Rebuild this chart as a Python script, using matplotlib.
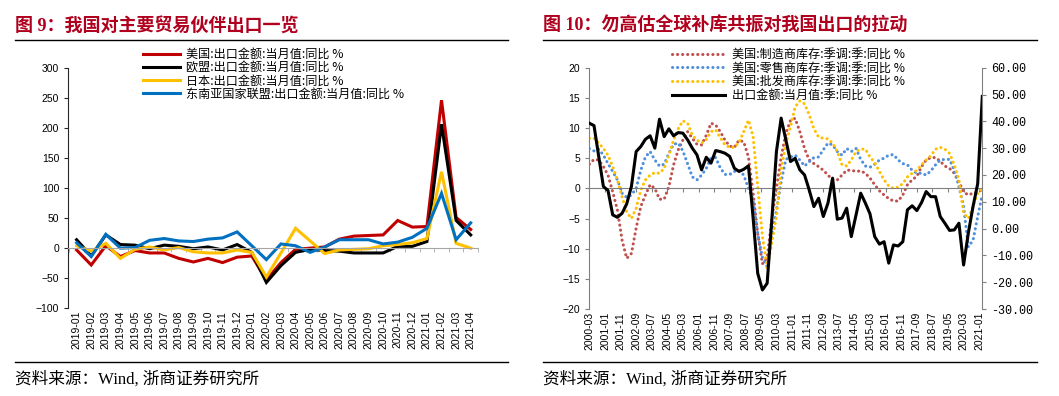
import numpy as np
import pandas as pd
import matplotlib
matplotlib.use("Agg")
import matplotlib.pyplot as plt
from matplotlib.lines import Line2D
from matplotlib.ticker import FormatStrFormatter, MultipleLocator
import matplotlib.dates as mdates

plt.rcParams["font.family"] = ["Liberation Sans", "Noto Sans CJK SC"]
plt.rcParams["axes.unicode_minus"] = True

# -------------------------
# Data: figure 9 (monthly, y/y %)
# -------------------------

months = ["2019-01", "2019-02", "2019-03", "2019-04", "2019-05", "2019-06",
          "2019-07", "2019-08", "2019-09", "2019-10", "2019-11", "2019-12",
          "2020-01", "2020-02", "2020-03", "2020-04", "2020-05", "2020-06",
          "2020-07", "2020-08", "2020-09", "2020-10", "2020-11", "2020-12",
          "2021-01", "2021-02", "2021-03", "2021-04"]

us = [-3, -28, 4, -14, -4, -8, -8, -17, -23, -17, -24, -15,
      -13, -53, -24, -2, 0, 2, 15, 20, 21, 22, 46, 35,
      36, 246, 51, 31]
eu = [14, -13, 22, 6, 5, -1, 5, 3, -1, 2, -3, 6,
      -7, -57, -29, -7, -2, -4, -5, -8, -8, -8, 3, 3,
      11, 206, 46, 22]
japan = [4, -5, 8, -17, -2, 2, -3, 1, -6, -8, -8, -3,
         -7, -48, -8, 33, 12, -9, -3, -2, -1, 4, 6, 9,
         16, 127, 8, 0]
asean = [9, -14, 23, 0, 1, 13, 16, 12, 11, 15, 17, 27,
         4, -19, 7, 4, -7, 2, 14, 14, 14, 7, 10, 18,
         33, 91, 14, 42]

left_labels = ["美国:出口金额:当月值:同比 %", "欧盟:出口金额:当月值:同比 %",
               "日本:出口金额:当月值:同比 %", "东南亚国家联盟:出口金额:当月值:同比 %"]

# -------------------------
# Data: figure 10 (quarterly, y/y %)
# -------------------------

quarters = pd.date_range("2000-03-01", "2021-03-01", freq="3MS")

us_mfg = [4.0, 4.8, 4.7, 3.6, 2.2, -0.6, -3.6, -8.6, -11.6, -10.8,
          -6.6, -3.0, -1.1, 0.6, 0.0, -1.8, -1.8, 0.3, 3.9, 6.4,
          8.0, 9.4, 8.3, 7.3, 7.2, 8.8, 10.8, 10.5, 9.4, 8.0,
          7.0, 6.8, 8.0, 7.7, 5.2, -0.8, -7.5, -12.5, -11.5, -5.0,
          0.0, 5.2, 9.1, 11.3, 11.6, 9.4, 6.6, 4.7, 4.1, 3.6,
          3.0, 2.2, 1.4, 1.4, 2.2, 3.0, 3.0, 2.8, 2.9, 2.5,
          1.7, 0.6, -0.4, -1.1, -1.7, -2.1, -2.1, -1.1, 0.6, 1.4,
          2.0, 3.6, 4.7, 5.1, 5.1, 4.5, 3.7, 3.3, 2.5, 1.1,
          -0.6, -1.1, -0.8, -0.6, -0.2]
us_retail = [6.6, 6.2, 6.5, 5.5, 4.1, 2.8, 1.4, -0.8, -1.5, -1.1,
             0.0, 3.0, 5.2, 6.1, 4.7, 3.7, 4.0, 5.8, 7.3, 7.5,
             6.2, 4.1, 1.9, 1.4, 2.2, 3.3, 5.0, 5.1, 3.4, 2.3,
             2.3, 2.8, 3.0, 2.2, 0.0, -1.9, -7.5, -11.5, -13.0, -8.0,
             -3.6, 1.1, 4.8, 5.2, 5.5, 4.7, 3.7, 4.4, 5.1, 5.2,
             6.4, 7.5, 7.2, 6.1, 5.5, 6.6, 6.1, 6.6, 4.8, 3.7,
             3.5, 4.0, 4.7, 5.0, 5.5, 5.6, 4.7, 4.1, 3.9, 3.0,
             2.5, 2.5, 2.2, 2.9, 3.9, 4.7, 4.8, 4.8, 3.0, 0.3,
             -3.0, -9.7, -8.6, -4.7, -1.0]
us_wholesale = [8.3, 8.3, 7.5, 6.6, 5.5, 3.6, 1.4, -1.4, -3.9, -5.0,
                -3.3, -0.3, 1.4, 2.2, 2.6, 2.5, 3.3, 5.5, 8.0, 9.9,
                11.2, 10.8, 8.8, 8.0, 7.5, 8.1, 9.4, 9.7, 8.4, 7.2,
                6.8, 6.8, 7.6, 9.4, 11.3, 8.6, 0.3, -8.0, -13.2, -9.0,
                -4.7, 3.0, 7.5, 10.2, 13.5, 14.5, 14.0, 12.2, 9.9, 8.5,
                8.3, 8.2, 7.5, 6.1, 3.9, 3.7, 4.7, 6.1, 6.5, 6.5,
                5.2, 4.3, 2.8, 1.4, 0.4, 0.0, 0.2, 0.8, 1.9, 2.5,
                3.0, 3.9, 4.7, 5.4, 6.5, 6.8, 6.5, 5.8, 3.9, 1.4,
                -4.1, -5.0, -3.0, -0.8, 0.0]
cn_export = [39.3, 38.4, 26.9, 15.7, 14.2, 5.1, 4.2, 5.7, 9.2, 15.7,
             28.7, 30.6, 33.3, 34.6, 30.0, 40.8, 34.3, 37.2, 34.6, 35.8,
             35.6, 33.1, 30.0, 27.5, 21.9, 26.6, 24.4, 29.1, 28.7, 28.1,
             26.9, 22.5, 21.3, 22.1, 23.4, 4.0, -16.7, -22.9, -20.4, 3.2,
             28.7, 41.2, 33.1, 25.0, 26.2, 21.9, 20.0, 14.4, 8.2, 11.3,
             4.5, 9.5, 18.8, 3.5, 3.9, 7.6, -3.0, 5.0, 13.2, 9.5,
             5.5, -3.0, -5.8, -4.9, -12.9, -6.1, -6.5, -4.9, 7.0, 8.5,
             6.7, 9.7, 13.8, 11.9, 11.9, 4.5, 2.0, -0.7, -0.5, 2.0,
             -13.6, -1.7, 8.2, 16.7, 49.3]

right_labels = ["美国:制造商库存:季调:季:同比 %", "美国:零售商库存:季调:季:同比 %",
                "美国:批发商库存:季调:季:同比 %", "出口金额:当月值:季:同比 %"]
right_ticks = pd.date_range("2000-03-01", "2021-01-01", freq="10MS")

# -------------------------
# Layout helpers (pixel -> figure fraction)
# -------------------------

W, H = 1059, 396


def fx(px):
    return px / W


def fy(py):
    return 1 - py / H


title_red = "#B0001E"
fig = plt.figure(figsize=(W / 100, H / 100), dpi=100)

for x0, x1, title in [(15, 508, "图 9：我国对主要贸易伙伴出口一览"),
                      (543, 1037, "图 10：勿高估全球补库共振对我国出口的拉动")]:
    fig.text(fx(x0), fy(26), title, color=title_red, fontsize=13, fontweight="bold",
             family=["Liberation Serif", "Noto Sans CJK SC"], va="center", ha="left")
    fig.add_artist(Line2D([fx(x0), fx(x1)], [fy(40), fy(40)], color="black", lw=1))
    fig.add_artist(Line2D([fx(x0), fx(x1)], [fy(362), fy(362)], color="black", lw=1))
    fig.text(fx(x0), fy(379), "资料来源：Wind, 浙商证券研究所", fontsize=12,
             family=["Liberation Serif", "Noto Sans CJK SC"], va="center", ha="left")

# -------------------------
# Figure 9
# -------------------------

ax1 = fig.add_axes([fx(68.3), fy(308.3), fx(478) - fx(68.3), fy(67.7) - fy(308.3)])
xpos = np.arange(len(months))
colors = ["#C00000", "#000000", "#FFC000", "#0070C0"]
for vals, c, lab in zip([us, eu, japan, asean], colors, left_labels):
    ax1.plot(xpos, vals, color=c, lw=2.2, label=lab, solid_joinstyle="miter")

ax1.set_ylim(-100, 300)
ax1.yaxis.set_major_locator(MultipleLocator(50))
ax1.set_xlim(-0.57, len(months) - 0.64)
ax1.spines["top"].set_visible(False)
ax1.spines["right"].set_visible(False)
ax1.spines["bottom"].set_position(("data", 0))
ax1.spines["bottom"].set_color("#A6A6A6")
ax1.spines["left"].set_color("#262626")
ax1.set_xticks(xpos)
ax1.set_xticklabels(months, rotation=90)
ax1.set_xticks(np.arange(-0.5, len(months), 1), minor=True)
ax1.tick_params(axis="x", which="major", length=0, pad=45, labelsize=7.5)
ax1.tick_params(axis="x", which="minor", length=3, color="#A6A6A6", direction="out")
ax1.tick_params(axis="y", length=3, labelsize=7.5, color="#262626")

ax1.legend(loc="upper left", bbox_to_anchor=(fx(143), fy(48)), bbox_transform=fig.transFigure,
           frameon=False, handlelength=3.1, handletextpad=0.45,
           labelspacing=0.02, borderpad=0, borderaxespad=0,
           prop={"family": "Noto Sans CJK SC", "size": 8.7})

# -------------------------
# Figure 10
# -------------------------

ax2 = fig.add_axes([fx(589.3), fy(309), fx(982.3) - fx(589.3), fy(67.7) - fy(309)])
ax2r = ax2.twinx()

dot = (0, (0.05, 1.6))
inv_colors = ["#C0504D", "#4F8FDC", "#FFC000"]
handles = []
for vals, c, lab in zip([us_mfg, us_retail, us_wholesale], inv_colors, right_labels[:3]):
    h, = ax2.plot(quarters, vals, color=c, lw=2.2, ls=dot, dash_capstyle="round", label=lab)
    handles.append(h)
h, = ax2r.plot(quarters, cn_export, color="black", lw=2.2, label=right_labels[3])
handles.append(h)

ax2.set_ylim(-20, 20)
ax2.yaxis.set_major_locator(MultipleLocator(5))
ax2r.set_ylim(-30, 60)
ax2r.yaxis.set_major_locator(MultipleLocator(10))
ax2r.yaxis.set_major_formatter(FormatStrFormatter("%.2f"))
ax2.set_xlim(quarters[0], quarters[-1])

for s in ["top", "right"]:
    ax2.spines[s].set_visible(False)
for s in ["top", "left", "bottom"]:
    ax2r.spines[s].set_visible(False)
ax2.spines["left"].set_color("#808080")
ax2r.spines["right"].set_color("#808080")
ax2.spines["bottom"].set_position(("data", 0))
ax2.spines["bottom"].set_color("#808080")

ax2.set_xticks(right_ticks)
ax2.xaxis.set_major_formatter(mdates.DateFormatter("%Y-%m"))
plt.setp(ax2.get_xticklabels(), rotation=90)
ax2.tick_params(axis="x", length=3, color="#808080", pad=86, labelsize=7.5)
ax2.tick_params(axis="y", length=3, color="#808080", labelsize=7.5)
ax2r.tick_params(axis="y", length=3, color="#808080", labelsize=8.5)
for t in ax2r.get_yticklabels():
    t.set_family("Liberation Mono")

ax2r.legend(handles=handles, loc="upper left", bbox_to_anchor=(fx(671.7), fy(48)),
            bbox_transform=fig.transFigure, frameon=False, handlelength=4.4,
            handletextpad=0.55, labelspacing=0.05, borderpad=0, borderaxespad=0,
            prop={"family": "Noto Sans CJK SC", "size": 8.7})

fig.savefig("out.png", dpi=100)
